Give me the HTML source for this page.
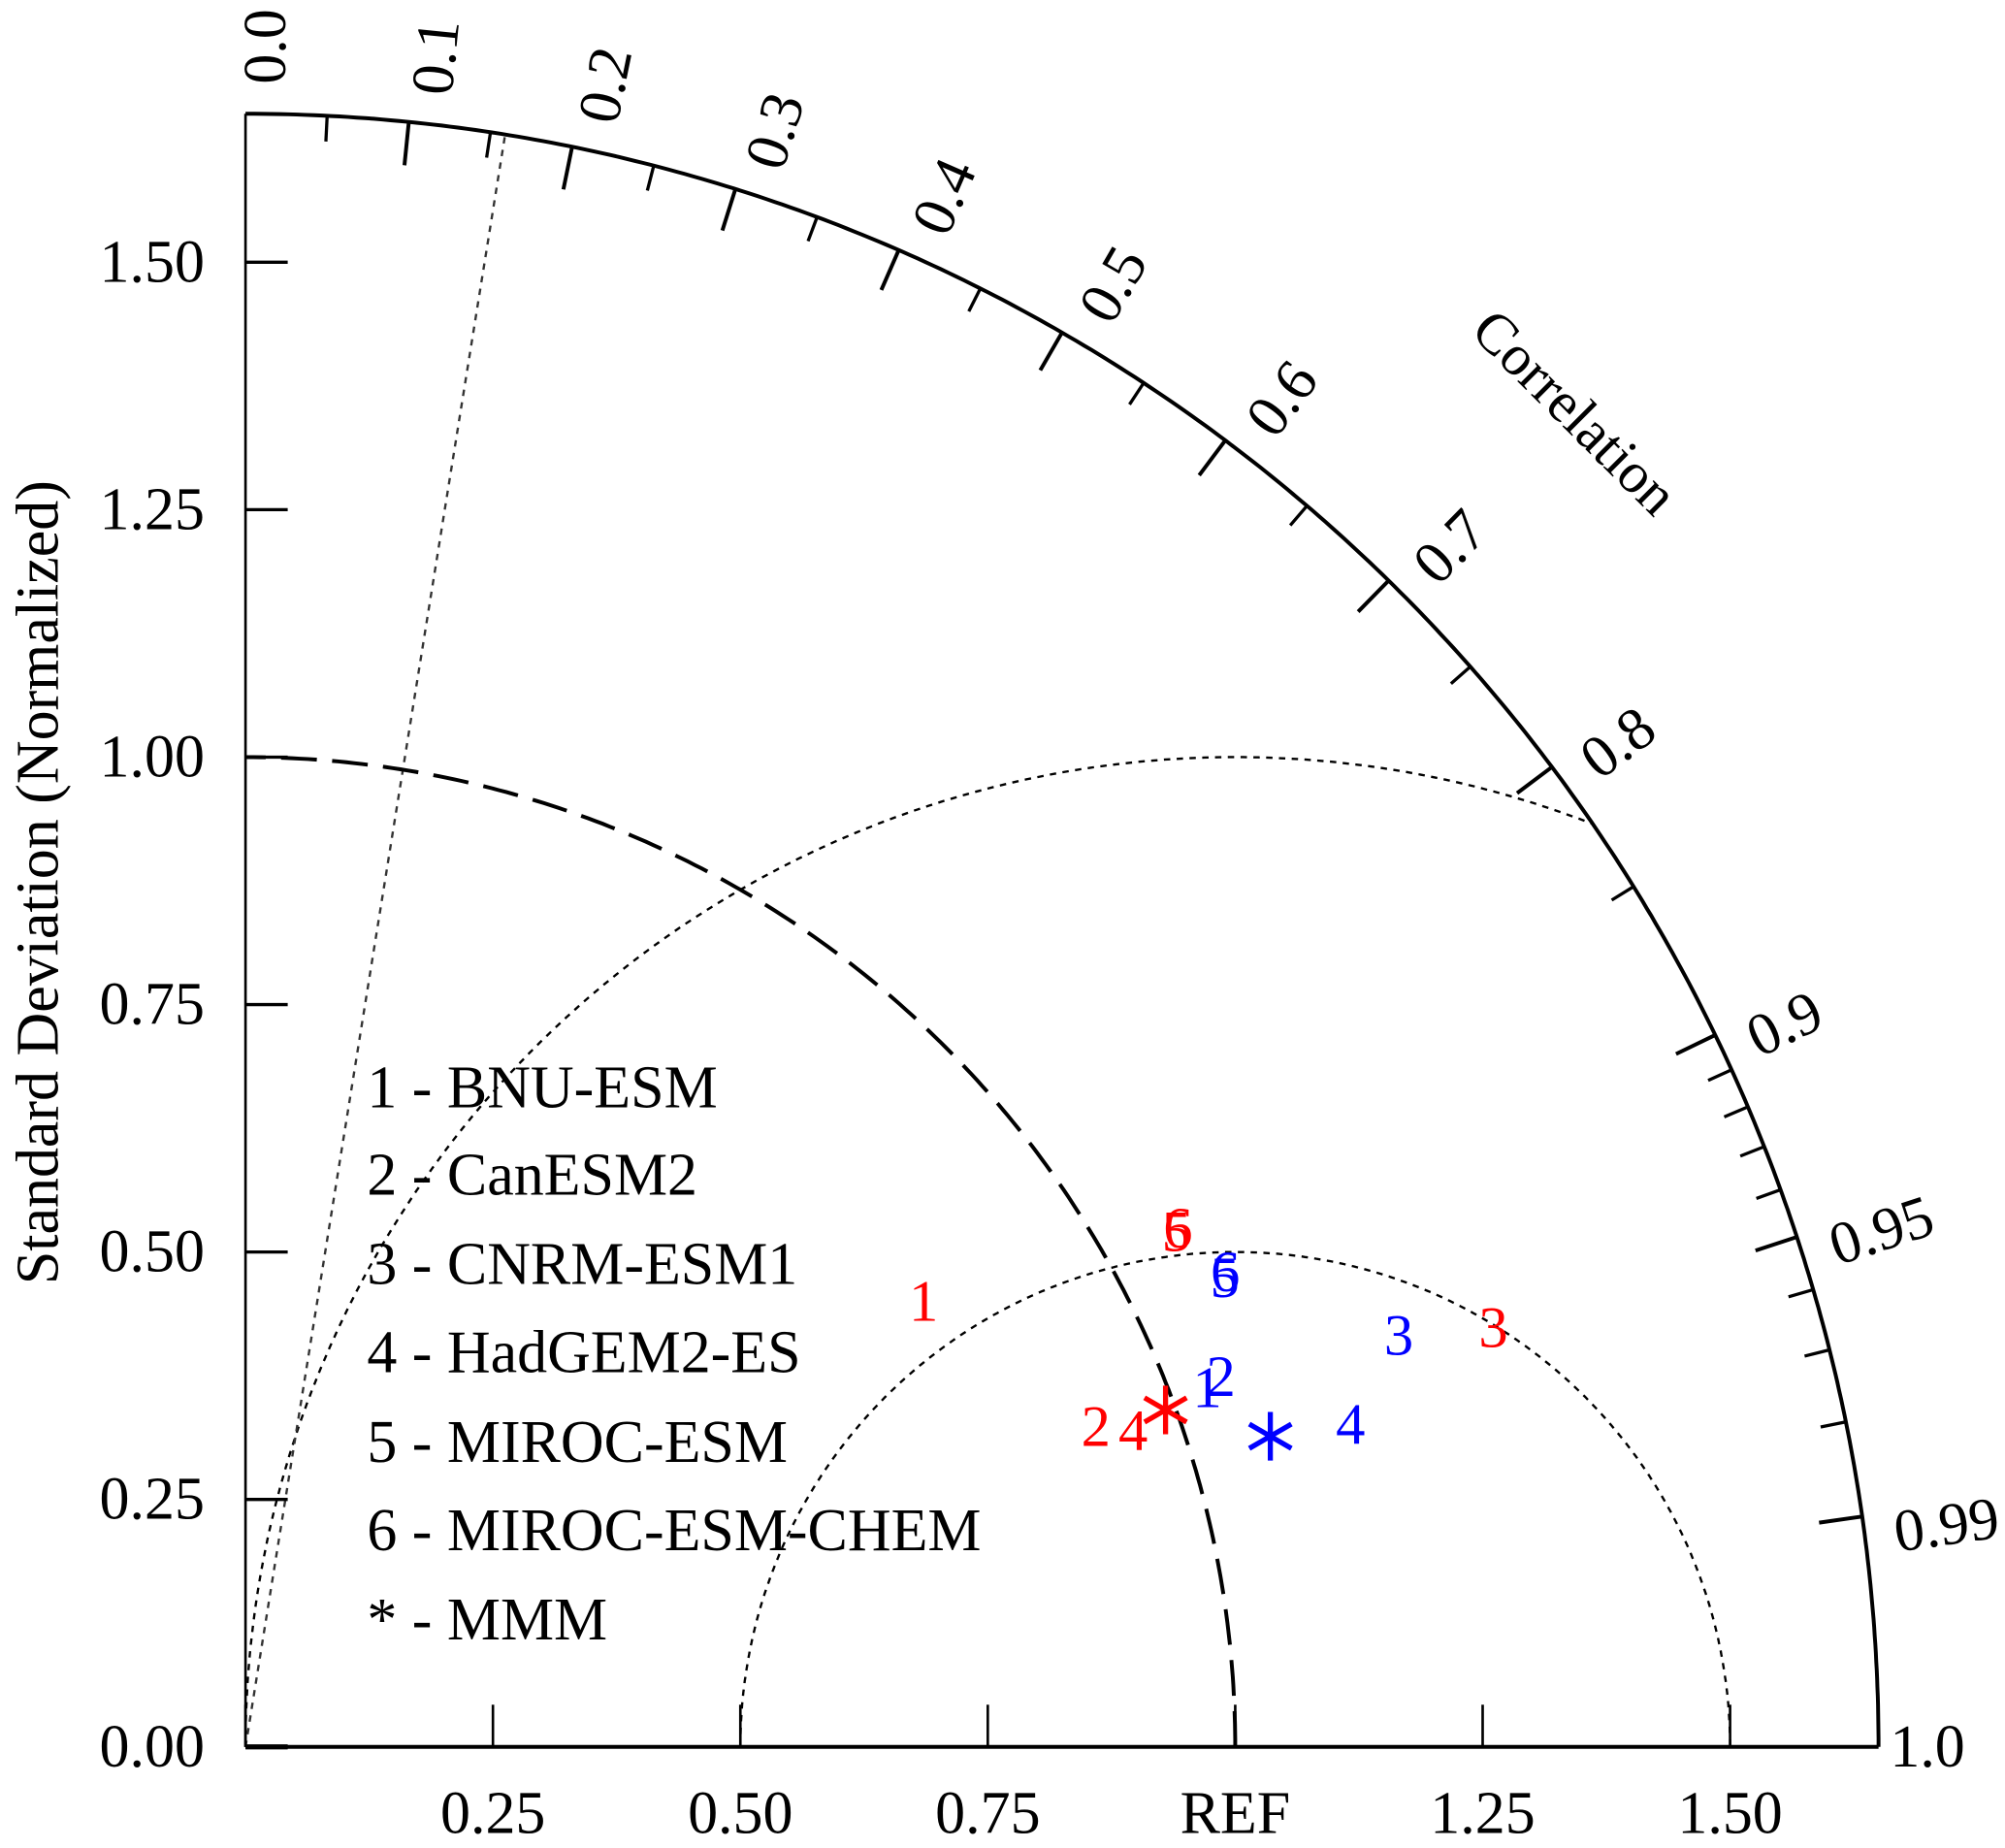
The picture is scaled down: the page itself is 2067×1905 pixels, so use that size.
<!DOCTYPE html>
<html><head><meta charset="utf-8"><style>html,body{margin:0;padding:0;background:#fff}svg{display:block}</style></head>
<body>
<svg id="chart" width="2067" height="1905" viewBox="0 0 1568 1445" xmlns="http://www.w3.org/2000/svg" font-family="'Liberation Serif', serif">
<g id="grid"></g>
<g id="axes"></g>
<g id="marks"></g>
<text x="0" y="0" transform="translate(30,690) rotate(-90)" text-anchor="middle" dominant-baseline="central" font-size="47">Standard Deviation (Normalized)</text>
<text x="0" y="0" transform="translate(1232,322) rotate(45)" text-anchor="middle" dominant-baseline="central" font-size="45">Correlation</text>
<g font-size="47">
<text x="287" y="866">1 - BNU-ESM</text>
<text x="287" y="934">2 - CanESM2</text>
<text x="287" y="1004">3 - CNRM-ESM1</text>
<text x="287" y="1073">4 - HadGEM2-ES</text>
<text x="287" y="1143">5 - MIROC-ESM</text>
<text x="287" y="1212">6 - MIROC-ESM-CHEM</text>
<text x="287" y="1282">* - MMM</text>
</g>
</svg>
<script>
const redLabels = ["1","2","3","4","5","6","*"];
const redSD   = [0.8195, 0.918, 1.330, 0.952, 1.075, 1.078, 0.990];
const redCorr = [0.836, 0.936, 0.948, 0.942, 0.875, 0.874, 0.939];
const blueLabels = ["1","2","3","4","5","6","*"];
const blueSD   = [1.037, 1.054, 1.237, 1.163, 1.097, 1.100, 1.082];
const blueCorr = [0.937, 0.935, 0.942, 0.960, 0.902, 0.900, 0.957];
const sdTicks = [0, 0.25, 0.5, 0.75, 1.0, 1.25, 1.5];
const sdTickLabels = ["0.00","0.25","0.50","0.75","1.00","1.25","1.50"];
const xTickLabels = ["","0.25","0.50","0.75","REF","1.25","1.50"];
const corrMajor = [0.1,0.2,0.3,0.4,0.5,0.6,0.7,0.8,0.9,0.95,0.99];
const corrMajorLabels = ["0.1","0.2","0.3","0.4","0.5","0.6","0.7","0.8","0.9","0.95","0.99"];
const corrMinor = [0.05,0.15,0.25,0.35,0.45,0.55,0.65,0.75,0.85,0.91,0.92,0.93,0.94,0.96,0.97,0.98];
const rmsRadii = [0.5, 1.0];
const refRadialCorr = [0.159];

const NS="http://www.w3.org/2000/svg";
const OX=192, OY=1366, U=774, RMAX=1.65;
const px=(sd,c)=>OX+sd*c*U;
const py=(sd,c)=>OY-sd*Math.sqrt(Math.max(0,1-c*c))*U;
function el(tag,attrs,parent){const e=document.createElementNS(NS,tag);for(const k in attrs)e.setAttribute(k,attrs[k]);parent.appendChild(e);return e;}
const grid=document.getElementById('grid'), axes=document.getElementById('axes'), marks=document.getElementById('marks');

rmsRadii.forEach(r=>{
  let d="";const N=400;
  for(let i=0;i<=N;i++){const t=Math.PI*i/N;const x=1+r*Math.cos(Math.PI-t),y=r*Math.sin(Math.PI-t);
    if(x<0||Math.hypot(x,y)>RMAX){continue;}
    d+=(d===""?"M":"L")+(OX+x*U).toFixed(1)+","+(OY-y*U).toFixed(1);}
  const p=el('path',{d:d,fill:'none',stroke:'#000','stroke-width':1.8,'stroke-dasharray':'5,5'},grid);
  
  
});
refRadialCorr.forEach(c=>{
  const l=el('line',{x1:OX,y1:OY,x2:px(RMAX,c),y2:py(RMAX,c),stroke:'#333','stroke-width':1.8,'stroke-dasharray':'5,5'},grid);
  
  
});
{let d="";for(let i=0;i<=200;i++){const a=Math.PI/2*i/200;d+=(i?"L":"M")+(OX+Math.cos(a)*U).toFixed(1)+","+(OY-Math.sin(a)*U).toFixed(1);}
const p=el('path',{d:d,fill:'none',stroke:'#000','stroke-width':3,'stroke-dasharray':'28,12'},grid);

}

{const l=el('line',{x1:OX,y1:OY,x2:OX,y2:OY-RMAX*U,stroke:'#000','stroke-width':2},axes);

const b=el('line',{x1:OX,y1:OY,x2:OX+RMAX*U,y2:OY,stroke:'#000','stroke-width':3},axes);

let d="";for(let i=0;i<=300;i++){const a=Math.PI/2*i/300;d+=(i?"L":"M")+(OX+Math.cos(a)*RMAX*U).toFixed(1)+","+(OY-Math.sin(a)*RMAX*U).toFixed(1);}
const p=el('path',{d:d,fill:'none',stroke:'#000','stroke-width':3},axes);
}
sdTicks.forEach((v,i)=>{
  const y=OY-v*U;
  const t=el('line',{x1:OX,y1:y,x2:OX+33,y2:y,stroke:'#000','stroke-width':i===0?4:2.5},axes);
  
  const tx=el('text',{x:160,y:y,'text-anchor':'end','dominant-baseline':'central','font-size':47},axes);
  tx.textContent=sdTickLabels[i];
  
  const x=OX+v*U;
  const t2=el('line',{x1:x,y1:OY,x2:x,y2:OY-33,stroke:'#000','stroke-width':2},axes);
  
  if(xTickLabels[i]){const t3=el('text',{x:x,y:1418,'text-anchor':'middle','dominant-baseline':'central','font-size':47},axes);
    t3.textContent=xTickLabels[i];
    }
});
function corrLabel(c,s){
  const a=Math.acos(c),cs=Math.cos(a),sn=Math.sin(a),r=(RMAX+0.03)*U;
  const x=OX+cs*r+sn*16, y=OY-sn*r+cs*16;
  const t=el('text',{x:0,y:0,transform:`translate(${x.toFixed(1)},${y.toFixed(1)}) rotate(${(-a*180/Math.PI).toFixed(2)})`,'dominant-baseline':'central','font-size':47},axes);
  t.textContent=s;
  
}
corrLabel(0,"0.0");
{const t=el('text',{x:1478,y:OY,'dominant-baseline':'central','font-size':47},axes);t.textContent="1.0";
}
corrMajor.forEach((c,i)=>{
  const l=el('line',{x1:px(RMAX,c),y1:py(RMAX,c),x2:px(RMAX-0.044,c),y2:py(RMAX-0.044,c),stroke:'#000','stroke-width':3},axes);
  
  corrLabel(c,corrMajorLabels[i]);
});
corrMinor.forEach(c=>{
  const l=el('line',{x1:px(RMAX,c),y1:py(RMAX,c),x2:px(RMAX-0.026,c),y2:py(RMAX-0.026,c),stroke:'#000','stroke-width':2.5},axes);
  
});

function drawSeries(labels,sds,cors,color,name){
  labels.forEach((lab,i)=>{
    const x=px(sds[i],cors[i]),y=py(sds[i],cors[i]);
    if(lab==="*"){
      const g=el('g',{stroke:color,'stroke-width':4},marks);
      
      for(let k=0;k<3;k++){const a=Math.PI/2+k*Math.PI/3,r=19;
        el('line',{x1:x+r*Math.cos(a),y1:y-r*Math.sin(a),x2:x-r*Math.cos(a),y2:y+r*Math.sin(a)},g);}
    } else {
      const t=el('text',{x:x,y:y,'text-anchor':'middle','dominant-baseline':'central','font-size':46,fill:color},marks);
      t.textContent=lab;
      
    }
  });
}
drawSeries(redLabels,redSD,redCorr,'#ff0000','red');
drawSeries(blueLabels,blueSD,blueCorr,'#0000ff','blue');
</script>
</body></html>
